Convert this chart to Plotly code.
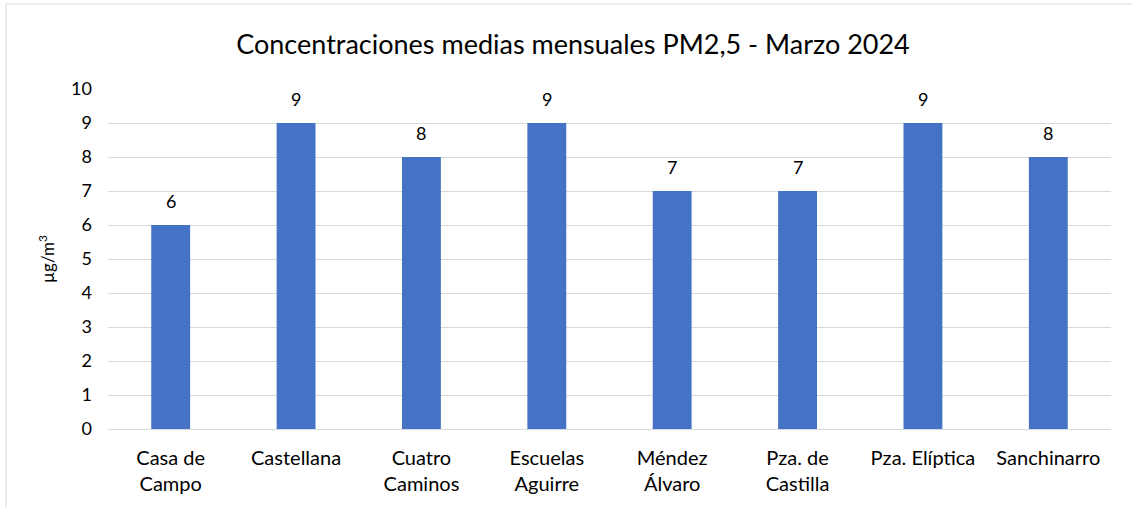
import plotly.graph_objects as go

stations = ["Casa de Campo", "Castellana", "Cuatro Caminos", "Escuelas Aguirre",
            "Méndez Álvaro", "Pza. de Castilla", "Pza. Elíptica", "Sanchinarro"]
tick_labels = ["Casa de<br>Campo", "Castellana", "Cuatro<br>Caminos", "Escuelas<br>Aguirre",
               "Méndez<br>Álvaro", "Pza. de<br>Castilla", "Pza. Elíptica", "Sanchinarro"]
values = [6, 9, 8, 9, 7, 7, 9, 8]
y_ticks = list(range(0, 11))

W, H = 1132, 507
L, R, T, B = 108, 21, 89, 78
pw, ph = W - L - R, H - T - B

fig = go.Figure(go.Bar(
    x=stations, y=values, marker_color="#4472C4", marker_line_width=0,
    hoverinfo="x+y",
))

for s, v in zip(stations, values):
    fig.add_annotation(x=s, y=v, text=str(v), showarrow=False, yanchor="bottom",
                       yshift=11, font=dict(family="Lato", size=18, color="#000000"))

fig.update_layout(
    width=W, height=H,
    margin=dict(l=L, r=R, t=T, b=B, autoexpand=False),
    paper_bgcolor="white", plot_bgcolor="white",
    bargap=0.69,
    showlegend=False,
    font=dict(family="Lato", color="#000000"),
    title=dict(text="Concentraciones medias mensuales PM2,5 - Marzo 2024",
               x=573 / W, xanchor="center", y=1 - 45 / H, yanchor="middle",
               font=dict(family="Lato", size=27, color="#000000")),
    xaxis=dict(tickmode="array", tickvals=stations, ticktext=tick_labels,
               tickfont=dict(family="Lato", size=20, color="#000000"),
               showline=True, linecolor="#D9D9D9", linewidth=1, automargin=False,
               showgrid=False, ticks="", ticklabelstandoff=11),
    yaxis=dict(range=[0, 10], tickvals=y_ticks, showgrid=True, gridcolor="#D9D9D9",
               gridwidth=1, zeroline=True, zerolinecolor="#D9D9D9", zerolinewidth=1,
               tickfont=dict(family="Lato", size=18, color="#000000"), automargin=False,
               ticks="", ticklabelstandoff=15,
               title=dict(text="µg/m<sup>3</sup>", font=dict(family="Lato", size=17, color="#000000"),
                          standoff=12)),
    shapes=[dict(type="rect", xref="paper", yref="paper",
                 x0=(6 - L) / pw, x1=(W + 10 - L) / pw,
                 y0=-(B + 10) / ph, y1=1 + (T - 4) / ph,
                 line=dict(color="#D9D9D9", width=1), fillcolor="rgba(0,0,0,0)",
                 layer="below")],
)

fig.write_html("out.html", config={"displayModeBar": False},
               post_script="document.body.style.margin='0';")
